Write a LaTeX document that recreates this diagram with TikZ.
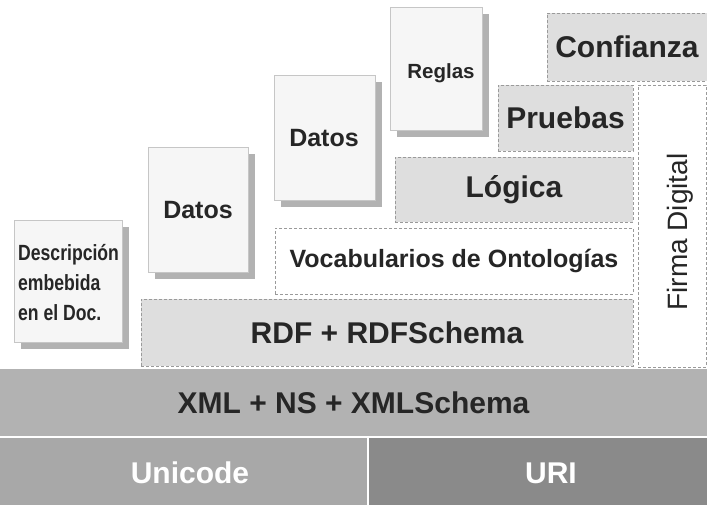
\documentclass[tikz,border=0pt]{standalone}
\usepackage{fontspec}
\setmainfont{Liberation Sans}
\newfontfamily\narrowfont[FakeStretch=0.8]{Liberation Sans}
\usetikzlibrary{shadows}
\definecolor{bandA}{HTML}{B2B2B2}
\definecolor{bandB}{HTML}{A8A8A8}
\definecolor{bandC}{HTML}{8A8A8A}
\definecolor{layerfill}{HTML}{DEDEDE}
\definecolor{layerline}{HTML}{9A9A9A}
\definecolor{paperfill}{HTML}{F6F6F6}
\definecolor{inktext}{HTML}{262626}
\tikzset{
  box/.style={inner sep=0pt, outer sep=0pt, anchor=north west, text=inktext},
  band/.style={box, draw=none, font=\fontsize{30}{36}\selectfont\bfseries},
  layer/.style={box, fill=layerfill, draw=layerline, densely dashed, line width=0.6pt,
    font=\fontsize{30}{36}\selectfont\bfseries},
  whitelayer/.style={layer, fill=white},
  paper/.style={box, fill=paperfill, draw=gray!45, line width=0.5pt,
    drop shadow={shadow xshift=7pt, shadow yshift=-7pt, fill=gray!75, opacity=0.8}},
  paperlabel/.style={inner sep=0pt, text=inktext, font=\fontsize{25}{30}\selectfont\bfseries},
}
\begin{document}
\begin{tikzpicture}[x=1pt,y=-1pt]
\useasboundingbox (0,0) rectangle (707,505);
\fill[white] (0,0) rectangle (707,505);
% bottom bands
\node[band, fill=bandB, minimum width=367pt, minimum height=67pt, text=white] (unicode) at (0,438) {};
\node[band, text=white, anchor=center] (unicodet) at (190,473) {Unicode};
\node[band, fill=bandC, minimum width=338pt, minimum height=67pt] (uri) at (369,438) {};
\node[band, text=white, anchor=center] (urit) at (551,473) {URI};
\node[band, fill=bandA, minimum width=707pt, minimum height=67pt] (xml) at (0,369) {XML + NS + XMLSchema};
% layers
\node[layer, minimum width=492pt, minimum height=67pt] (rdf) at (141,299) {RDF + RDFSchema};
\node[whitelayer, minimum width=358pt, minimum height=66pt, font=\fontsize{25}{30}\selectfont\bfseries] (voc) at (275,228) {Vocabularios de Ontologías};
\node[layer, minimum width=238pt, minimum height=65pt] (logica) at (395,157) {Lógica};
\node[layer, minimum width=135pt, minimum height=66pt] (pruebas) at (498,85) {Pruebas};
\node[layer, minimum width=160pt, minimum height=68pt] (conf) at (547,13) {Confianza};
\node[whitelayer, minimum width=68pt, minimum height=282pt] (firma) at (638,85) {};
\node[rotate=90, inner sep=0pt, text=inktext, font=\fontsize{28}{32}\selectfont] (firmat) at (680,232) {Firma Digital};
% paper sheets
\node[paper, minimum width=108pt, minimum height=122pt] (desc) at (14,220) {};
\node[anchor=west, align=left, inner sep=0pt, text=inktext, font=\narrowfont\fontsize{22}{30}\selectfont\bfseries] (desct) at (18,283) {Descripción\\embebida\\en el Doc.};
\node[paper, minimum width=100pt, minimum height=125pt] (datos1) at (148,147) {};
\node[paperlabel] (datos1t) at (198,210) {Datos};
\node[paper, minimum width=101pt, minimum height=125pt] (datos2) at (274,75) {};
\node[paperlabel] (datos2t) at (324,138) {Datos};
\node[paper, minimum width=92pt, minimum height=123pt] (reglas) at (390,7) {};
\node[paperlabel, font=\fontsize{20.5}{24}\selectfont\bfseries] (reglast) at (441,73) {Reglas};
\end{tikzpicture}
\end{document}
